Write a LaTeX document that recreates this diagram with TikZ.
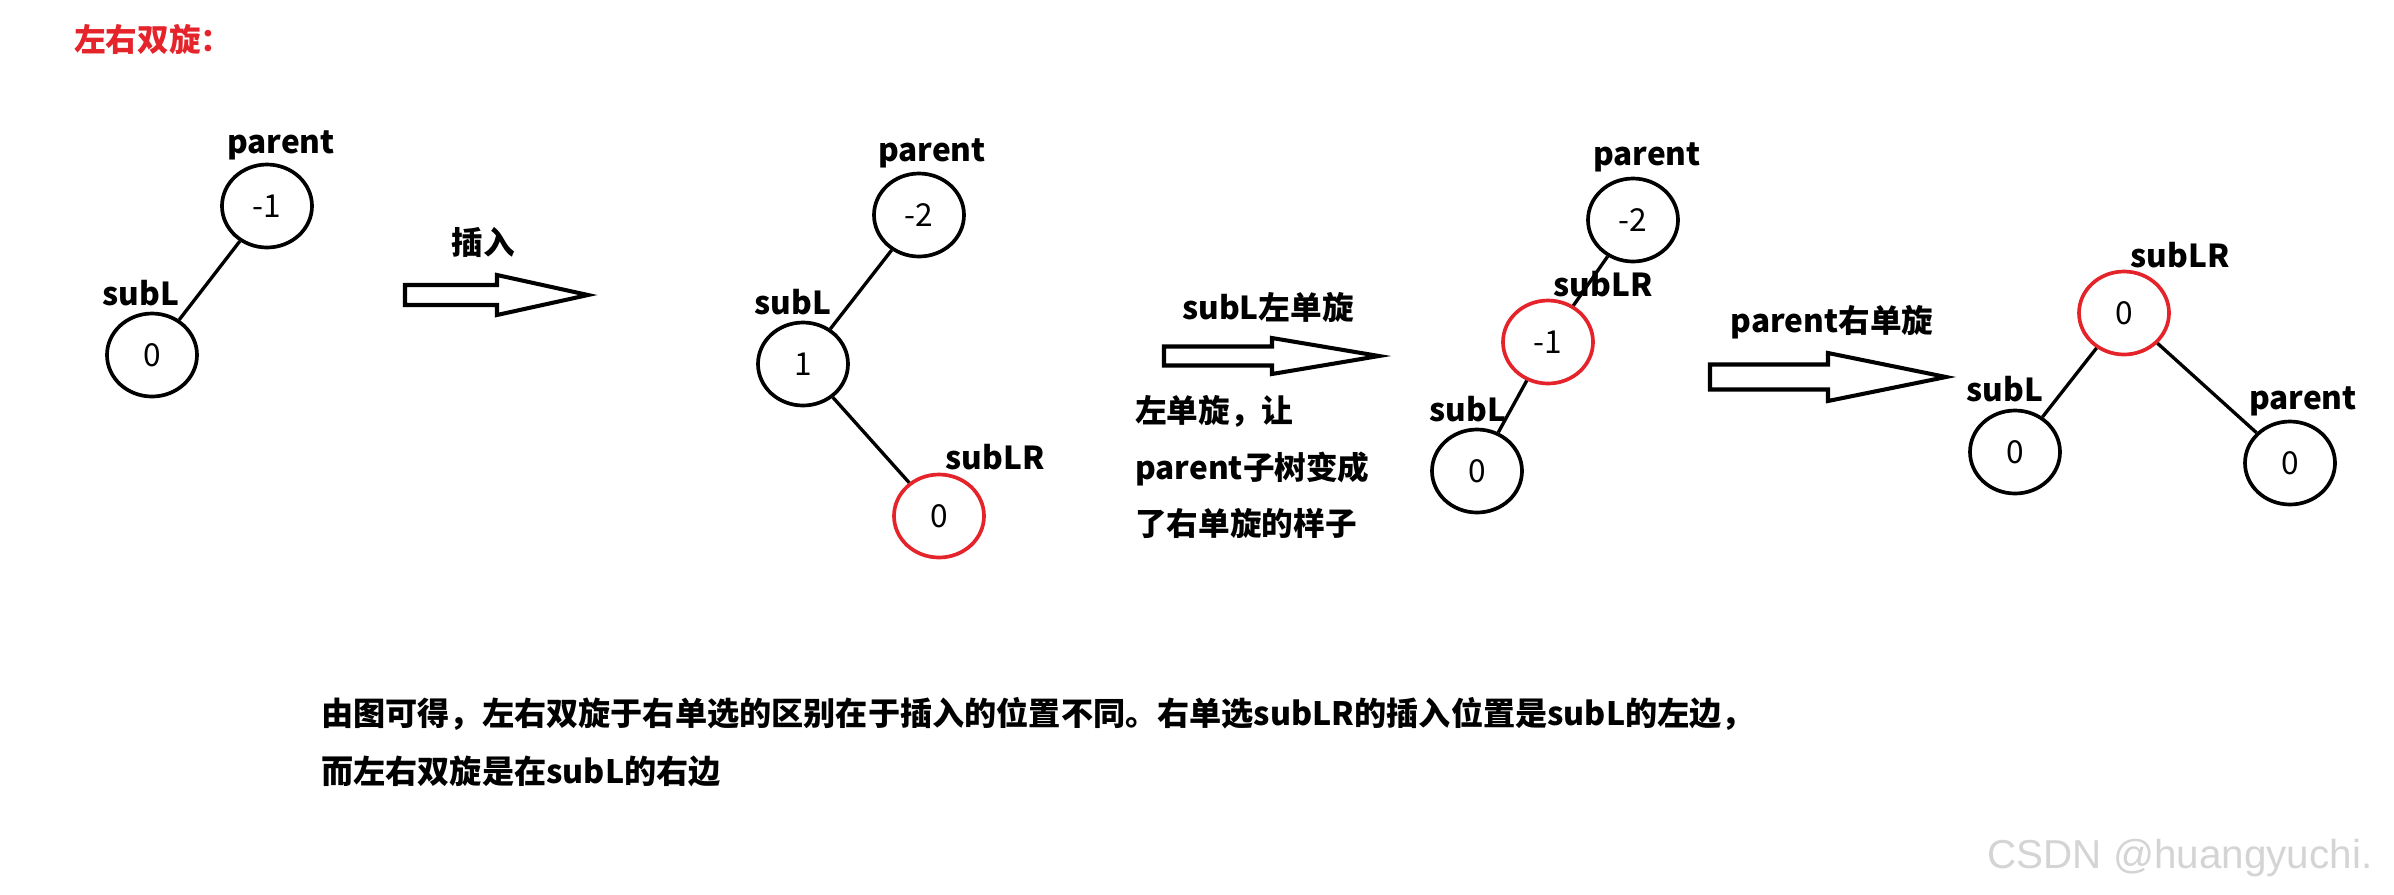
\documentclass[tikz,border=0pt]{standalone}
\usepackage{fontspec}
\setmainfont{Noto Sans CJK SC}
\newfontfamily\markfont{Liberation Sans}
\usetikzlibrary{shapes.geometric,positioning}
\definecolor{rotred}{HTML}{E5232A}
\definecolor{wmark}{HTML}{D4D4D4}

% hollow block arrow: x-start, x-tip, x-head, y, shaft half, head half
\newcommand{\fatarrow}[6]{%
  \draw[line width=2.3pt, line join=miter, fill=white]
    (#1,{#4-#5}) -- (#3,{#4-#5}) -- (#3,{#4-#6}) -- (#2,#4)
    -- (#3,{#4+#6}) -- (#3,{#4+#5}) -- (#1,{#4+#5}) -- cycle;}

\tikzset{
  bal/.style={draw, ellipse, line width=2.1pt, minimum width=18mm,
    minimum height=16.6mm, inner sep=0pt, font=\fontsize{18}{22}\selectfont},
  newbal/.style={bal, draw=rotred},
  tag/.style={font=\fontsize{18}{22}\selectfont\bfseries, inner sep=0pt},
  note/.style={tag, anchor=west},
  link/.style={line width=1.9pt},
}

\begin{document}
\begin{tikzpicture}[x=0.2mm, y=-0.2mm]
  \useasboundingbox (0,0) rectangle (2394,894);

  \node[tag, text=rotred, anchor=west] (title) at (74,39) {左右双旋：};

  % before insertion
  \node[bal] (p1) at (267,206) {-1};
  \node[bal] (l1) at (152,355) {0};
  \node[tag] (tp1) at (281,145) {parent};
  \node[tag] (tl1) at (141,293) {subL};
  \draw[link] (p1) -- (l1);

  \fatarrow{405}{588}{497}{295}{10}{20}
  \node[tag] (ins) at (483,242) {插入};

  % after insertion
  \node[bal] (p2) at (919,215) {-2};
  \node[bal] (l2) at (803,364) {1};
  \node[newbal] (lr2) at (939,516) {0};
  \node[tag] (tp2) at (932,153) {parent};
  \node[tag] (tl2) at (793,302) {subL};
  \node[tag] (tlr2) at (995,457) {subLR};
  \draw[link] (p2) -- (l2);
  \draw[link] (l2) -- (lr2);

  \fatarrow{1164}{1379}{1272}{356}{9.5}{18}
  \node[tag] (rotl) at (1268,307) {subL左单旋};
  \node[note] (n1) at (1135,411) {左单旋，让};
  \node[note] (n2) at (1135,469) {parent子树变成};
  \node[note] (n3) at (1135,523) {了右单旋的样子};

  % after left rotation
  \node[bal] (p3) at (1633,220) {-2};
  \node[newbal] (lr3) at (1548,342) {-1};
  \node[bal] (l3) at (1477,471) {0};
  \node[tag] (tp3) at (1647,157) {parent};
  \node[tag] (tlr3) at (1603,284) {subLR};
  \node[tag] (tl3) at (1468,409) {subL};
  \draw[link] (p3) -- (lr3);
  \draw[link] (lr3) -- (l3);

  \fatarrow{1710}{1946}{1828}{377}{12.5}{24}
  \node[tag] (rotr) at (1832,322) {parent右单旋};

  % after right rotation
  \node[newbal] (lr4) at (2124,313) {0};
  \node[bal] (l4) at (2015,452) {0};
  \node[bal] (p4) at (2290,463) {0};
  \node[tag] (tlr4) at (2180,255) {subLR};
  \node[tag] (tl4) at (2005,389) {subL};
  \node[tag] (tp4) at (2303,401) {parent};
  \draw[link] (lr4) -- (l4);
  \draw[link] (lr4) -- (p4);

  % conclusion
  \node[note, font=\fontsize{18.3}{22}\selectfont\bfseries] (c1) at (321,714)
    {由图可得，左右双旋于右单选的区别在于插入的位置不同。右单选subLR的插入位置是subL的左边，};
  \node[note, font=\fontsize{18.3}{22}\selectfont\bfseries] (c2) at (321,771)
    {而左右双旋是在subL的右边};

  \node[text=wmark, font=\markfont\fontsize{23}{27}\selectfont, inner sep=0pt]
    (wm) at (2180,858) {CSDN @huangyuchi.};
\end{tikzpicture}
\end{document}
